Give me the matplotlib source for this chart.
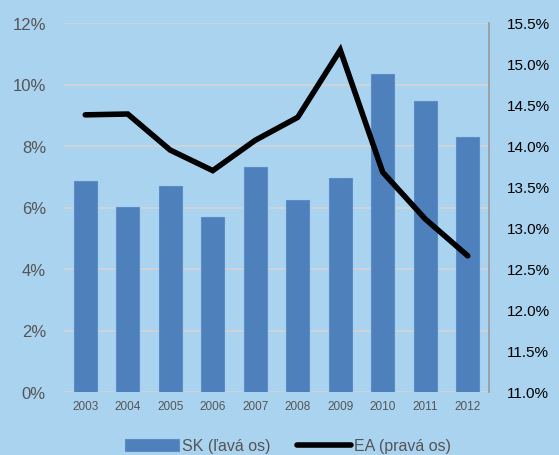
import matplotlib
matplotlib.use('Agg')
import matplotlib.pyplot as plt
import numpy as np
from matplotlib.ticker import FuncFormatter

plt.rcParams['font.family'] = ['Liberation Sans', 'DejaVu Sans']

# Data
years = ['2003', '2004', '2005', '2006', '2007', '2008', '2009', '2010', '2011', '2012']
sk_values = [6.86, 6.02, 6.70, 5.69, 7.32, 6.24, 6.96, 10.34, 9.46, 8.29]
ea_values = [14.38, 14.39, 13.95, 13.70, 14.07, 14.35, 15.17, 13.68, 13.11, 12.66]
left_ticks = [0, 2, 4, 6, 8, 10, 12]
right_ticks = [11.0, 11.5, 12.0, 12.5, 13.0, 13.5, 14.0, 14.5, 15.0, 15.5]

bg = '#aad3f0'
bar_color = '#4e80bc'
grid_color = '#d4d4d4'

fig = plt.figure(figsize=(5.59, 4.56), dpi=100, facecolor=bg)
ax = fig.add_axes([64 / 559, 1 - 393 / 456, 425 / 559, 369 / 456])
ax.set_facecolor(bg)

x = np.arange(len(years))
bars = ax.bar(x, sk_values, width=0.54, color=bar_color, edgecolor='#5a8cc6',
              linewidth=0.8, label='SK (ľavá os)', zorder=2)
ax.set_xlim(-0.5, len(years) - 0.5)
ax.set_ylim(0, 12)
ax.set_yticks(left_ticks)
ax.yaxis.set_major_formatter(FuncFormatter(lambda v, p: f'{v:.0f}%'))
ax.grid(axis='y', color=grid_color, linewidth=1.2, zorder=0)
ax.set_axisbelow(True)
ax.set_xticks(x)
ax.set_xticklabels(years)
ax.tick_params(axis='x', length=0, labelsize=8.5, labelcolor='#555555', pad=6)
ax.tick_params(axis='y', length=0, labelsize=12, labelcolor='#555555', pad=13)
for s in ['top', 'left', 'bottom', 'right']:
    ax.spines[s].set_visible(False)

ax2 = ax.twinx()
line, = ax2.plot(x, ea_values, color='black', linewidth=4, solid_capstyle='round',
                 solid_joinstyle='miter', label='EA (pravá os)', zorder=3)
ax2.set_ylim(11.0, 15.5)
ax2.set_yticks(right_ticks)
ax2.yaxis.set_major_formatter(FuncFormatter(lambda v, p: f'{v:.1f}%'))
ax2.tick_params(axis='y', length=0, labelsize=11, labelcolor='black', pad=13)
for s in ['top', 'left', 'bottom']:
    ax2.spines[s].set_visible(False)
ax2.spines['right'].set_color('#999999')
ax2.spines['right'].set_linewidth(1.2)

leg = fig.legend([bars, line], ['SK (ľavá os)', 'EA (pravá os)'], ncol=2,
                 loc='center', bbox_to_anchor=(288 / 559, 1 - 447 / 456),
                 frameon=False, fontsize=11.5, handlelength=3.4, handletextpad=0.2,
                 columnspacing=1.6, borderpad=0)
for t in leg.get_texts():
    t.set_color('#555555')

fig.savefig('out.png', dpi=100, facecolor=bg)
